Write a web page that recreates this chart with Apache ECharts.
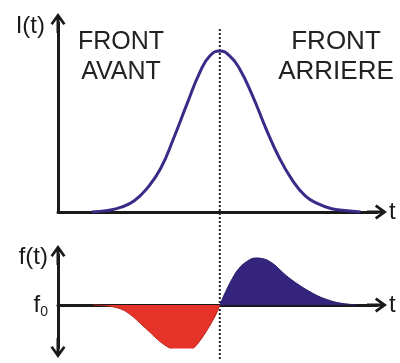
<!DOCTYPE html>
<html>
<head>
    <meta charset="utf-8">
    <script src="https://cdn.jsdelivr.net/npm/echarts@6/dist/echarts.min.js"></script>
    <style>
        html, body { margin: 0; padding: 0; background: #fff; }
    </style>
</head>
<body>

    <div id="main" style="width: 400px;height:363px;position:absolute"></div>

<script type="text/javascript">
// pulse intensity I(t) (peak = 1)
var tI   = [1.02, 1.52, 1.92, 2.32, 2.72, 3.12, 3.52, 3.92, 4.32, 4.62, 4.92, 5.22, 5.52, 5.92, 6.32, 6.72, 7.12, 7.52, 7.92, 8.32, 8.72, 9.2];
var valI = [0, 0.01, 0.03, 0.07, 0.15, 0.27, 0.46, 0.67, 0.87, 0.97, 1, 0.97, 0.89, 0.72, 0.52, 0.34, 0.2, 0.1, 0.05, 0.02, 0.01, 0];

// frequency shift f(t) - f0, rising front (red) and falling front (blue)
var tRed   = [1.06, 1.5, 1.9, 2.2, 2.5, 2.8, 3.1, 3.4, 3.6, 3.8, 4.0, 4.15, 4.3, 4.5, 4.7, 4.85, 4.92];
var valRed = [0, -0.02, -0.08, -0.2, -0.38, -0.57, -0.76, -0.9, -0.97, -1.0, -0.96, -0.88, -0.76, -0.56, -0.33, -0.13, 0];
var tBlue   = [4.92, 5.1, 5.3, 5.5, 5.75, 6.0, 6.2, 6.5, 6.8, 7.0, 7.3, 7.6, 7.9, 8.2, 8.5, 8.8, 9.1];
var valBlue = [0, 0.28, 0.55, 0.76, 0.91, 0.98, 0.97, 0.88, 0.7, 0.58, 0.43, 0.3, 0.19, 0.11, 0.05, 0.02, 0];

var tPeak = 4.92;
var tMax = 9.7;

function zip(a, b) {
    return a.map(function (v, i) { return [v, b[i]]; });
}

// open chevron arrow with a short stem, so the axis line runs into the tip
var ARROW = 'path://M7.5,0 L15,10.5 L12.8,12.1 L9,6.8 L9,20 L6,20 L6,6.8 L2.2,12.1 L0,10.5 Z';
var INK = '#1a1a1a';
var FONT = 'Liberation Sans';

function axisLine(symbols) {
    return {
        show: true,
        onZero: true,
        symbol: symbols,
        symbolSize: [15, 20],
        lineStyle: { color: INK, width: 3 }
    };
}

var myChart = echarts.init(document.getElementById('main'));

myChart.setOption({
    animation: false,
    grid: [
        { left: 58, right: 23, top: 23, bottom: 151 },
        { left: 58, right: 23, top: 255, bottom: 15 },
        { left: 58, right: 23, top: 27, bottom: 4 }
    ],
    xAxis: [
        {
            gridIndex: 0, type: 'value', min: 0, max: tMax,
            axisLine: axisLine(['none', ARROW]),
            axisTick: { show: false }, axisLabel: { show: false }, splitLine: { show: false },
            name: 't', nameLocation: 'end', nameGap: 12,
            nameTextStyle: { color: INK, fontSize: 24, fontFamily: FONT }
        },
        {
            gridIndex: 1, type: 'value', min: 0, max: tMax,
            axisLine: axisLine(['none', ARROW]),
            axisTick: { show: false }, axisLabel: { show: false }, splitLine: { show: false },
            name: 't', nameLocation: 'end', nameGap: 12,
            nameTextStyle: { color: INK, fontSize: 24, fontFamily: FONT }
        },
        { gridIndex: 2, type: 'value', min: 0, max: tMax, show: false }
    ],
    yAxis: [
        {
            gridIndex: 0, type: 'value', min: 0, max: 1.174,
            axisLine: axisLine(['none', ARROW]),
            axisTick: { show: false }, axisLabel: { show: false }, splitLine: { show: false },
            name: 'I(t)', nameLocation: 'end', nameGap: -3,
            nameTextStyle: { color: INK, fontSize: 24, fontFamily: FONT, align: 'right', verticalAlign: 'middle', padding: [0, 13, 0, 0] }
        },
        {
            gridIndex: 1, type: 'value', min: -0.896, max: 1.042,
            axisLine: axisLine([ARROW, ARROW]),
            axisTick: { show: false }, splitLine: { show: false },
            axisLabel: {
                show: true,
                customValues: [0],
                margin: 10,
                formatter: function () { return '{f|f}{s|0}'; },
                rich: {
                    f: { fontSize: 24, fontFamily: FONT, color: INK },
                    s: { fontSize: 14, fontFamily: FONT, color: INK, padding: [14, 0, 0, 0] }
                }
            },
            name: 'f(t)', nameLocation: 'end', nameGap: -2,
            nameTextStyle: { color: INK, fontSize: 24, fontFamily: FONT, align: 'right', verticalAlign: 'middle', padding: [0, 10, 0, 0] }
        },
        { gridIndex: 2, type: 'value', min: 0, max: 1, show: false }
    ],
    graphic: [
        {
            type: 'text', x: 121, y: 27,
            style: {
                text: 'FRONT\nAVANT', font: '25px "Liberation Sans"', fill: '#222',
                align: 'center', lineHeight: 30
            }
        },
        {
            type: 'text', x: 336, y: 27,
            style: {
                text: 'FRONT\nARRIERE', font: '26px "Liberation Sans"', fill: '#222',
                align: 'center', lineHeight: 30
            }
        }
    ],
    series: [
        {
            name: 'dotted',
            type: 'line', xAxisIndex: 2, yAxisIndex: 2,
            data: [[tPeak, 0], [tPeak, 1]],
            showSymbol: false, silent: true, z: 1,
            lineStyle: { color: '#222', width: 2, type: [2, 2] }
        },
        {
            name: 'I(t)',
            type: 'line', xAxisIndex: 0, yAxisIndex: 0,
            data: zip(tI, valI),
            smooth: 0.5, showSymbol: false,
            lineStyle: { color: '#3b2a88', width: 3 }
        },
        {
            name: 'front avant',
            type: 'line', xAxisIndex: 1, yAxisIndex: 1,
            data: zip(tRed, valRed),
            smooth: 0.4, showSymbol: false,
            lineStyle: { color: '#b8271f', width: 1 },
            areaStyle: { color: '#e5332a', opacity: 1 }
        },
        {
            name: 'front arriere',
            type: 'line', xAxisIndex: 1, yAxisIndex: 1,
            data: zip(tBlue, valBlue),
            smooth: 0.4, showSymbol: false,
            lineStyle: { color: '#281b66', width: 1 },
            areaStyle: { color: '#35247e', opacity: 1 }
        }
    ]
});
</script>

</body>
</html>
